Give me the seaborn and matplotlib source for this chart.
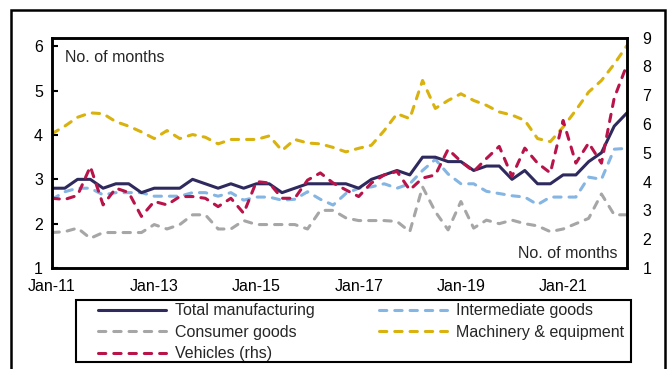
import numpy as np
import pandas as pd
import matplotlib
matplotlib.use("Agg")
import matplotlib.pyplot as plt
from matplotlib.patches import Rectangle
import seaborn as sns

# ---- data (quarterly, 2011Q1 - 2022Q2) ----
quarters = [str(p) for p in pd.period_range("2011Q1", "2022Q2", freq="Q")]
total_manufacturing = [2.8, 2.8, 3.0, 3.0, 2.8, 2.9, 2.9, 2.7, 2.8, 2.8, 2.8, 3.0,
                       2.9, 2.8, 2.9, 2.8, 2.9, 2.9, 2.7, 2.8, 2.9, 2.9, 2.9, 2.9,
                       2.8, 3.0, 3.1, 3.2, 3.1, 3.5, 3.5, 3.4, 3.4, 3.2, 3.3, 3.3,
                       3.0, 3.2, 2.9, 2.9, 3.1, 3.1, 3.4, 3.6, 4.2, 4.5]
intermediate_goods = [2.55, 2.72, 2.8, 2.8, 2.65, 2.7, 2.7, 2.7, 2.62, 2.62, 2.62, 2.7,
                      2.7, 2.62, 2.7, 2.53, 2.6, 2.6, 2.53, 2.55, 2.72, 2.55, 2.42, 2.68,
                      2.8, 2.83, 2.9, 2.8, 2.9, 3.2, 3.45, 3.12, 2.9, 2.9, 2.73, 2.68,
                      2.63, 2.6, 2.43, 2.6, 2.6, 2.6, 3.05, 3.0, 3.68, 3.7]
consumer_goods = [1.8, 1.82, 1.9, 1.67, 1.8, 1.8, 1.8, 1.8, 1.98, 1.88, 1.98, 2.2,
                  2.2, 1.88, 1.88, 2.07, 1.98, 1.98, 1.98, 1.98, 1.88, 2.3, 2.3, 2.13,
                  2.07, 2.07, 2.07, 2.05, 1.82, 2.83, 2.27, 1.86, 2.5, 1.9, 2.08, 2.0,
                  2.08, 2.0, 1.95, 1.82, 1.88, 2.0, 2.12, 2.67, 2.2, 2.2]
machinery_equipment = [4.03, 4.2, 4.4, 4.5, 4.48, 4.3, 4.2, 4.07, 3.92, 4.1, 3.92, 4.01,
                       3.95, 3.8, 3.9, 3.9, 3.9, 3.98, 3.65, 3.9, 3.82, 3.8, 3.72, 3.62,
                       3.7, 3.77, 4.1, 4.48, 4.37, 5.23, 4.6, 4.78, 4.93, 4.78, 4.67, 4.52,
                       4.45, 4.33, 3.92, 3.85, 4.18, 4.56, 4.97, 5.23, 5.6, 6.02]
vehicles_rhs = [3.42, 3.38, 3.52, 4.52, 3.19, 3.77, 3.62, 2.79, 3.31, 3.19, 3.48, 3.48,
                3.42, 3.13, 3.42, 2.9, 4.0, 3.95, 3.42, 3.42, 4.05, 4.3, 3.95, 3.71,
                3.48, 3.95, 4.23, 4.35, 3.71, 4.12, 4.23, 5.12, 4.7, 4.35, 4.8, 5.22,
                4.18, 5.16, 4.64, 4.3, 6.12, 4.64, 5.34, 4.64, 6.9, 8.06]
tick_quarters = ["2011Q1", "2013Q1", "2015Q1", "2017Q1", "2019Q1", "2021Q1"]
tick_labels = ["Jan-11", "Jan-13", "Jan-15", "Jan-17", "Jan-19", "Jan-21"]
left_ticks = [1, 2, 3, 4, 5, 6]
right_ticks = [1, 2, 3, 4, 5, 6, 7, 8, 9]

df = pd.DataFrame({
    "t": np.arange(len(quarters)),
    "Total manufacturing": total_manufacturing,
    "Intermediate goods": intermediate_goods,
    "Consumer goods": consumer_goods,
    "Machinery & equipment": machinery_equipment,
    "Vehicles (rhs)": vehicles_rhs,
})

sns.set_style("white")
plt.rcParams["font.family"] = ["Liberation Sans", "DejaVu Sans"]
FS = 11.5
plt.rcParams["font.size"] = FS

W, H = 668, 369
fig = plt.figure(figsize=(W / 100, H / 100), dpi=100)
ax = fig.add_axes([52 / W, 1 - 268 / H, (627 - 52) / W, (268 - 37.5) / H])
ax2 = ax.twinx()

LW = 2.2
colors = {
    "Total manufacturing": "#2E2A5E",
    "Intermediate goods": "#85B5E3",
    "Consumer goods": "#A6A6A6",
    "Machinery & equipment": "#D9B20E",
    "Vehicles (rhs)": "#B8144A",
}
dash = (2.4, 2.6)

handles = {}
for name in ["Consumer goods", "Intermediate goods", "Machinery & equipment", "Total manufacturing"]:
    sns.lineplot(data=df, x="t", y=name, ax=ax, color=colors[name], linewidth=LW, legend=False)
    ln = ax.lines[-1]
    if name != "Total manufacturing":
        ln.set_dashes(dash)
        ln.set_dash_capstyle("round")
    handles[name] = ln

sns.lineplot(data=df, x="t", y="Vehicles (rhs)", ax=ax2, color=colors["Vehicles (rhs)"],
             linewidth=LW, legend=False)
ln = ax2.lines[-1]
ln.set_dashes(dash)
ln.set_dash_capstyle("round")
handles["Vehicles (rhs)"] = ln

ax.set_xlim(0, len(quarters) - 1)
ax.set_ylim(1, 6.2)
ax2.set_ylim(1, 9)
ax.set_yticks(left_ticks)
ax2.set_yticks(right_ticks)
ax.set_xticks([quarters.index(q) for q in tick_quarters])
ax.set_xticklabels(tick_labels)
ax.set_xlabel("")
ax.set_ylabel("")
ax2.set_ylabel("")

ax.tick_params(axis="x", length=0, pad=8, labelsize=FS, colors="black")
ax.tick_params(axis="y", direction="in", length=4, width=1.5, pad=6.5, labelsize=FS, colors="black")
ax2.tick_params(axis="y", length=0, pad=11, labelsize=FS, colors="black")

for a in (ax, ax2):
    for s in a.spines.values():
        s.set_visible(True)
        s.set_color("black")
        s.set_linewidth(1.8)
ax.grid(False)
ax2.grid(False)

ax.text(13 / 575, (268 - 57) / 230.5, "No. of months", transform=ax.transAxes,
        ha="left", va="center", fontsize=FS)
ax.text((618 - 52) / 575, (268 - 253) / 230.5, "No. of months", transform=ax.transAxes,
        ha="right", va="center", fontsize=FS)

order = ["Total manufacturing", "Consumer goods", "Vehicles (rhs)",
         "Intermediate goods", "Machinery & equipment"]
fs_px = FS * 100 / 72
leg = fig.legend([handles[k] for k in order], order, ncol=2,
                 loc="upper left", bbox_to_anchor=(98 / W, 1 - 303.5 / H),
                 borderaxespad=0, borderpad=0, fontsize=FS, frameon=False,
                 handlelength=68 / fs_px, handletextpad=9 / fs_px, labelspacing=0.4,
                 columnspacing=64 / fs_px)

# legend frame
fig.patches.append(Rectangle((76 / W, 1 - 362 / H), (631 - 76) / W, (362 - 300) / H,
                             transform=fig.transFigure, fill=False,
                             edgecolor="black", linewidth=1.5))

# outer frame (clipped by the figure bottom)
fig.patches.append(Rectangle((11 / W, -0.1), (665 - 11) / W, 1.1 - 10 / H,
                             transform=fig.transFigure, fill=False,
                             edgecolor="black", linewidth=1.8))

fig.savefig("out.png", dpi=100)
